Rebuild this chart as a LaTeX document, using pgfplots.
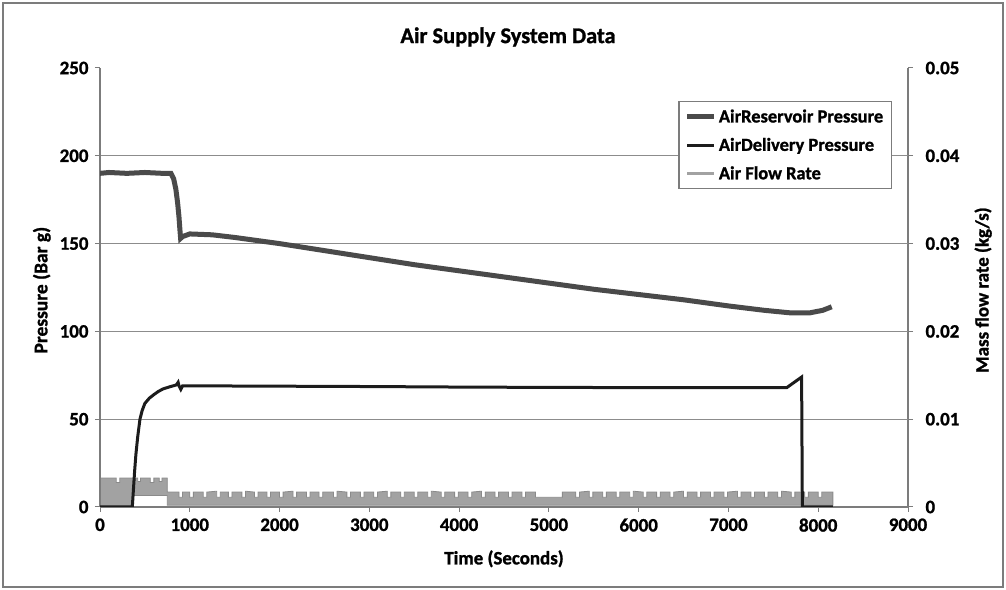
\documentclass[border=0pt]{standalone}
\usepackage{pgfplots}
\pgfplotsset{compat=1.18}
\usepackage{fontspec}
\setmainfont{Carlito}[BoldFeatures={FakeBold=1.2}]
\definecolor{resv}{HTML}{4A4A4A}
\definecolor{deliv}{HTML}{1C1C1C}
\definecolor{flowfill}{HTML}{A2A2A2}
\definecolor{flowline}{HTML}{8A8A8A}
\definecolor{axisgray}{HTML}{7C7C7C}
\definecolor{gridgray}{HTML}{8C8C8C}
\begin{document}
\begin{tikzpicture}
\path[use as bounding box] (0bp,0bp) rectangle (1006bp,590bp);
\draw[line width=1.5bp, color=axisgray] (3bp,3bp) rectangle (1003bp,587bp);
\node[font=\fontsize{22.5}{26}\bfseries] at (508bp,553bp) {Air Supply System Data};
% ---- flow rate axis (right) ----
\begin{axis}[
  at={(100bp,83bp)}, anchor=south west,
  scale only axis, width=808bp, height=439bp,
  xmin=0, xmax=9000, ymin=0, ymax=0.05,
  axis x line=none, axis y line*=right,
  axis line style={axisgray, line width=1.2bp},
  ytick={0,0.01,0.02,0.03,0.04,0.05},
  scaled y ticks=false,
  tick align=outside, major tick length=5bp,
  tick style={axisgray, line width=1bp},
  /pgf/number format/assume math mode=true,
  yticklabel style={font=\fontsize{19}{22}\bfseries, /pgf/number format/fixed, /pgf/number format/precision=2, xshift=9bp},
  ylabel={Mass flow rate (kg/s)},
  ylabel style={font=\fontsize{19}{22}\bfseries, at={(axis description cs:1.093,0.494)}, anchor=center},
]
\addplot[fill=flowfill, draw=flowline, line width=0.8bp] coordinates {
(0,0) (0,0.0033) (180,0.0033) (180,0.0028) (220,0.0028) (220,0.0033) (420,0.0033) (420,0.0029) (450,0.0029) (450,0.0033)
(560,0.0033) (560,0.0028) (600,0.0028) (600,0.0033) (660,0.0033) (660,0.0029) (690,0.0029) (690,0.0033) (750,0.0033) (750,0.0017)
(880,0.0017) (880,0.0011) (920,0.0011) (920,0.0017)
(1000,0.0017) (1000,0.0011) (1040,0.0011) (1040,0.0017)
(1150,0.0017) (1150,0.0011) (1190,0.0011) (1190,0.0017)
(1300,0.0018) (1300,0.0011) (1340,0.0011) (1340,0.0017)
(1430,0.0017) (1430,0.0011) (1470,0.0011) (1470,0.0017)
(1580,0.0017) (1580,0.0011) (1620,0.0011) (1620,0.0018)
(1720,0.0017) (1720,0.0011) (1760,0.0011) (1760,0.0017)
(1860,0.0017) (1860,0.0011) (1900,0.0011) (1900,0.0017)
(2000,0.0017) (2000,0.0011) (2040,0.0011) (2040,0.0017)
(2150,0.0018) (2150,0.0011) (2190,0.0011) (2190,0.0017)
(2300,0.0017) (2300,0.0011) (2340,0.0011) (2340,0.0017)
(2440,0.0017) (2440,0.0011) (2480,0.0011) (2480,0.0017)
(2600,0.0017) (2600,0.0011) (2640,0.0011) (2640,0.0018)
(2750,0.0017) (2750,0.0011) (2790,0.0011) (2790,0.0017)
(2900,0.0017) (2900,0.0011) (2940,0.0011) (2940,0.0017)
(3050,0.0017) (3050,0.0011) (3090,0.0011) (3090,0.0017)
(3200,0.0018) (3200,0.0011) (3240,0.0011) (3240,0.0017)
(3350,0.0017) (3350,0.0011) (3390,0.0011) (3390,0.0017)
(3500,0.0017) (3500,0.0011) (3540,0.0011) (3540,0.0017)
(3650,0.0017) (3650,0.0011) (3690,0.0011) (3690,0.0018)
(3800,0.0017) (3800,0.0011) (3840,0.0011) (3840,0.0017)
(3950,0.0017) (3950,0.0011) (3990,0.0011) (3990,0.0017)
(4100,0.0017) (4100,0.0011) (4140,0.0011) (4140,0.0017)
(4250,0.0018) (4250,0.0011) (4290,0.0011) (4290,0.0017)
(4400,0.0017) (4400,0.0011) (4440,0.0011) (4440,0.0017)
(4550,0.0017) (4550,0.0011) (4590,0.0011) (4590,0.0017)
(4700,0.0017) (4700,0.0011) (4740,0.0011) (4740,0.0017)
(4850,0.0017) (4850,0.0011) (5150,0.0011) (5150,0.0017)
(5300,0.0017) (5300,0.0011) (5340,0.0011) (5340,0.0017)
(5450,0.0018) (5450,0.0011) (5490,0.0011) (5490,0.0017)
(5600,0.0017) (5600,0.0011) (5640,0.0011) (5640,0.0017)
(5750,0.0017) (5750,0.0011) (5790,0.0011) (5790,0.0017)
(5900,0.0017) (5900,0.0011) (5940,0.0011) (5940,0.0018)
(6050,0.0017) (6050,0.0011) (6090,0.0011) (6090,0.0017)
(6200,0.0017) (6200,0.0011) (6240,0.0011) (6240,0.0017)
(6350,0.0017) (6350,0.0011) (6390,0.0011) (6390,0.0017)
(6500,0.0018) (6500,0.0011) (6540,0.0011) (6540,0.0017)
(6650,0.0017) (6650,0.0011) (6690,0.0011) (6690,0.0017)
(6800,0.0017) (6800,0.0011) (6840,0.0011) (6840,0.0017)
(6950,0.0017) (6950,0.0011) (6990,0.0011) (6990,0.0017)
(7100,0.0018) (7100,0.0011) (7140,0.0011) (7140,0.0017)
(7250,0.0017) (7250,0.0011) (7290,0.0011) (7290,0.0017)
(7400,0.0017) (7400,0.0011) (7440,0.0011) (7440,0.0017)
(7550,0.0017) (7550,0.0011) (7590,0.0011) (7590,0.0018)
(7700,0.0017) (7700,0.0011) (7740,0.0011) (7740,0.0017)
(7850,0.0017) (7850,0.0011) (7890,0.0011) (7890,0.0017)
(8000,0.0017) (8000,0.0011) (8040,0.0011) (8040,0.0017)
(8163,0.0017) (8163,0.0002) (750,0.0002) (750,0.0013) (370,0.0013) (370,0)
} --cycle;
\end{axis}
% ---- pressure axis (left) ----
\begin{axis}[
  at={(100bp,83bp)}, anchor=south west,
  scale only axis, width=808bp, height=439bp,
  xmin=0, xmax=9000, ymin=0, ymax=250,
  axis x line*=bottom, axis y line*=left,
  axis line style={axisgray, line width=1.2bp},
  xtick={0,1000,...,9000}, ytick={0,50,100,150,200},
  extra y ticks={250}, extra y tick style={grid=none},
  scaled x ticks=false, scaled y ticks=false,
  ymajorgrids, grid style={gridgray, line width=1.2bp},
  tick align=outside, major tick length=5bp,
  tick style={axisgray, line width=1bp},
  /pgf/number format/assume math mode=true,
  /pgf/number format/1000 sep={},
  ticklabel style={font=\fontsize{19}{22}\bfseries},
  xticklabel style={yshift=-3bp},
  yticklabel style={xshift=-3bp},
  xlabel={Time (Seconds)},
  xlabel style={font=\fontsize{19}{22}\bfseries, at={(axis description cs:0.5,-0.118)}, anchor=center},
  ylabel={Pressure (Bar g)},
  ylabel style={font=\fontsize{19.5}{22}\bfseries, at={(axis description cs:-0.072,0.494)}, anchor=center},
  legend style={at={(axis description cs:0.980,0.925)}, anchor=north east,
    draw=axisgray, line width=1.2bp, fill=white,
    font=\fontsize{18.5}{21}\bfseries, row sep=10bp, inner sep=6bp,
    legend cell align=left},
  legend image code/.code={\draw[#1] (0bp,0bp) -- (27bp,0bp);},
]
\addplot[resv, line width=5bp] coordinates {
(0,190) (100,190.5) (300,190) (500,190.5) (700,190) (790,190) (820,187) (845,181) (865,173) (880,165) (890,158) (898,153)
(920,154) (1000,155.5) (1250,155) (1500,153.5) (2000,150) (2500,146) (3000,142) (3500,138) (4000,134.5) (4500,131)
(5000,127.5) (5500,124) (6000,121) (6500,118) (7000,114.5) (7400,112) (7700,110.5) (7900,110.5) (8050,112) (8150,114)
};
\addlegendentry{AirReservoir Pressure}
\addplot[deliv, line width=3bp] coordinates {
(0,0) (360,0) (370,8) (385,20) (400,30) (420,40) (445,50) (470,55) (500,59) (550,62) (600,64) (650,65.8) (700,67.2)
(780,68.5) (850,69.5) (870,71) (880,69) (900,67) (920,69) (1000,69) (2000,68.8) (3000,68.6) (4000,68.3) (5000,68.1)
(6000,68) (7000,68) (7650,68) (7815,74) (7823,0) (8163,0)
};
\addlegendentry{AirDelivery Pressure}
\addlegendimage{flowfill, line width=3bp}
\addlegendentry{Air Flow Rate}
\end{axis}
\end{tikzpicture}
\end{document}
